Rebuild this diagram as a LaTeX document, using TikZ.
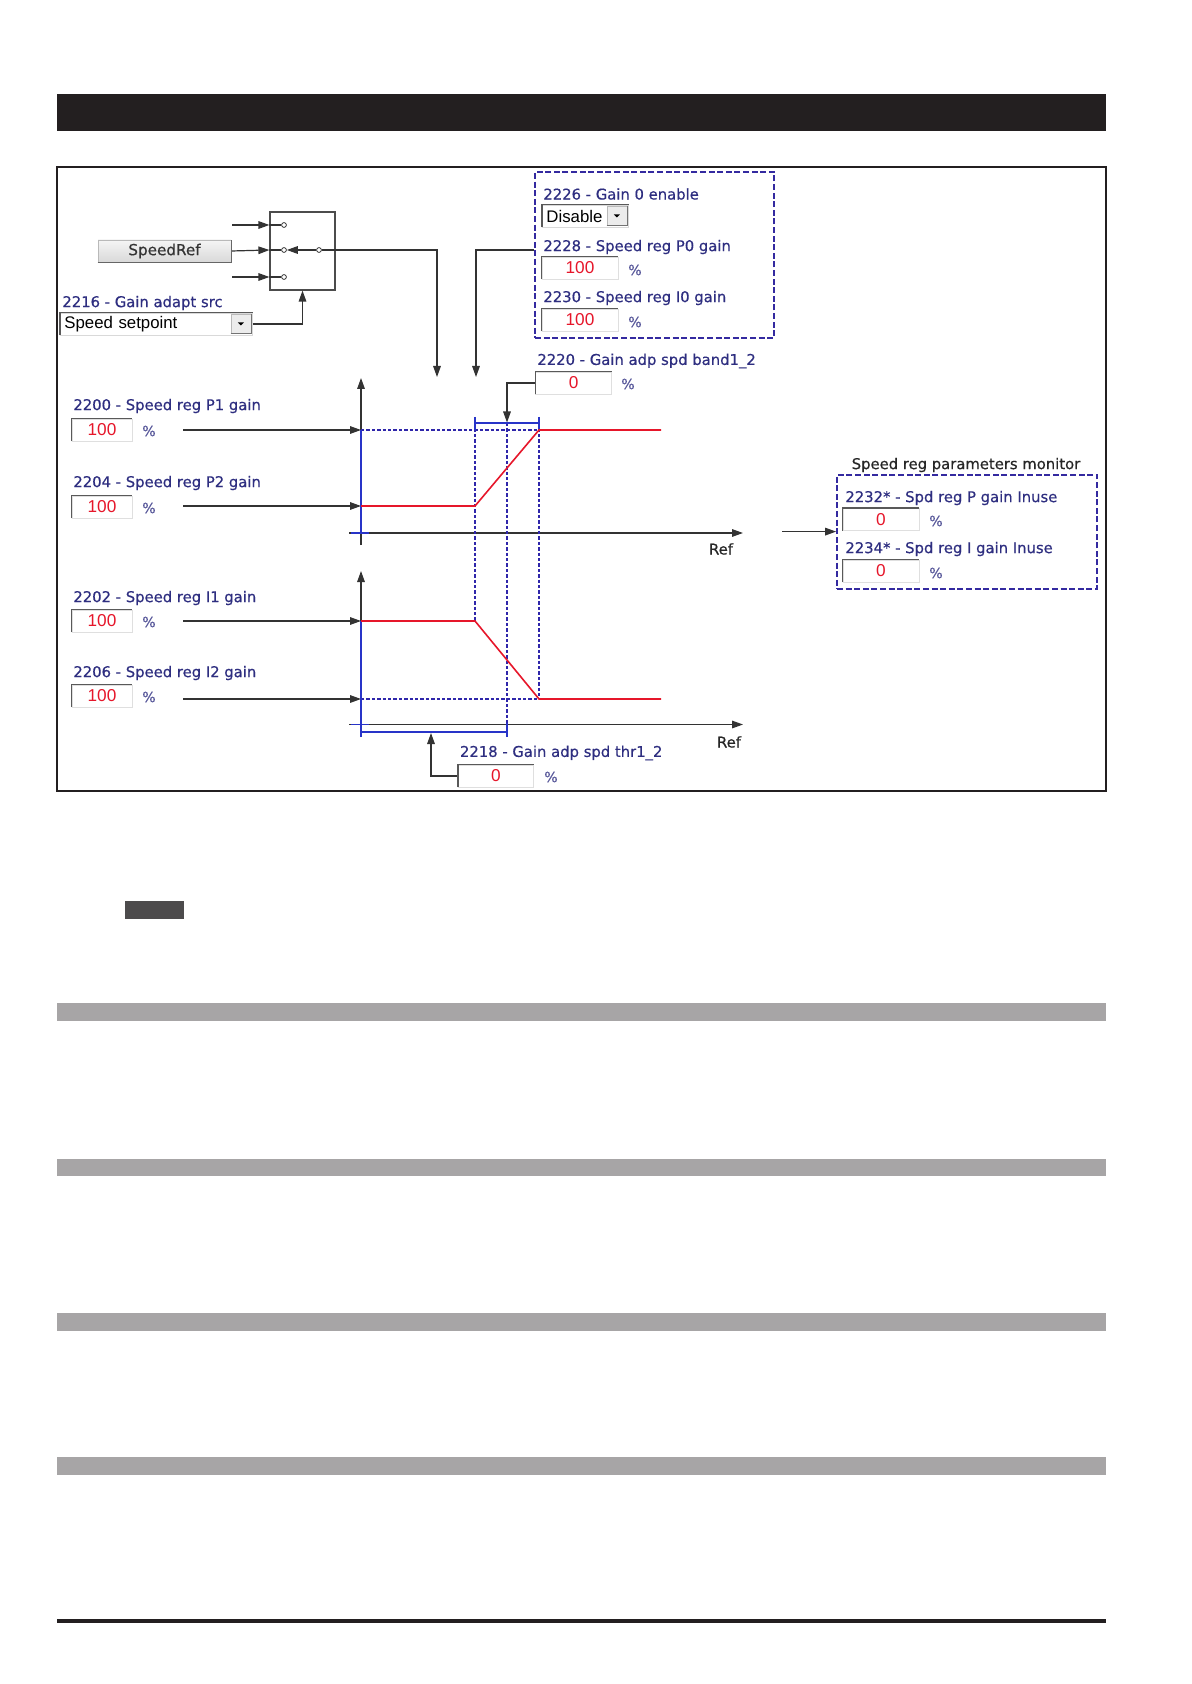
\documentclass[tikz,border=0pt]{standalone}
\usepackage{fontspec}
\usetikzlibrary{arrows.meta,positioning,calc}
\newfontfamily\verdfont[FakeBold=0.5]{DejaVu Sans}
\newfontfamily\arialfont{Liberation Sans}
\definecolor{lblblue}{RGB}{46,46,128}
\definecolor{boxblue}{RGB}{52,42,160}
\definecolor{axblue}{RGB}{40,52,200}
\definecolor{valred}{RGB}{230,22,42}
\definecolor{barblack}{RGB}{35,31,32}
\definecolor{bargray}{RGB}{167,165,166}
\definecolor{tabgray}{RGB}{77,75,76}

\begin{document}
\begin{tikzpicture}[x=0.5pt, y=-0.5pt,
  >={Triangle[length=5.5pt,width=3.8pt]},
  lbl/.style={anchor=west, inner sep=0pt, text=lblblue, font=\verdfont\fontsize{7.4pt}{9pt}\selectfont},
  pct/.style={inner sep=0pt, text=lblblue!80, font=\verdfont\fontsize{7pt}{8pt}\selectfont},
  reftext/.style={inner sep=0pt, text=black!85, font=\verdfont\fontsize{7.4pt}{9pt}\selectfont},
  field/.style={draw=gray!25, fill=white, minimum width=#1, minimum height=11pt, inner sep=0pt, text=valred, font=\arialfont\fontsize{8.6pt}{10pt}\selectfont},
  field/.default=38pt,
  combo/.style={draw=gray!30, fill=white, anchor=west, minimum height=11pt, inner xsep=2pt, inner ysep=0pt, text width=#1, align=left, font=\arialfont\fontsize{8.4pt}{10pt}\selectfont},
  dropbtn/.style={draw=gray!55, fill=gray!15, anchor=east, minimum width=10pt, minimum height=9.5pt, inner sep=0pt},
  button/.style={draw=gray!55, top color=gray!8, bottom color=gray!30, minimum width=66.5pt, minimum height=11pt, inner sep=0pt, text=black!80, font=\verdfont\fontsize{7.6pt}{9pt}\selectfont},
  selbox/.style={draw=black!70, line width=0.6pt, minimum width=32.5pt, minimum height=39pt, inner sep=0pt},
  contact/.style={circle, draw=black!80, fill=white, line width=0.4pt, minimum size=2.4pt, inner sep=0pt},
  grpbox/.style={draw=boxblue, line width=0.9pt, dash pattern=on 3pt off 1.3pt, inner sep=0pt},
  wire/.style={draw=black!80, line width=0.6pt},
  axline/.style={draw=axblue, line width=0.7pt},
  guide/.style={draw=boxblue!90!blue, line width=0.95pt, dash pattern=on 1.7pt off 1pt},
  curve/.style={draw=valred, line width=0.8pt}
]
\useasboundingbox (0,0) rectangle (1191,1684);

\fill[barblack] (57,94.5) rectangle (1106,131);
\draw[barblack, line width=1pt] (57,167.5) rectangle (1106,791);

% selector
\node[selbox] (sw) at (302.5,251) {};
\node[contact] (c1) at (284,225) {};
\node[contact] (c2) at (284,250) {};
\node[contact] (c3) at (284,277) {};
\node[contact] (cout) at (319,250) {};
\node[button] (sref) at (164.5,251) {SpeedRef};
\coordinate (in1) at (232,225);
\coordinate (in3) at (232,277);
\draw[wire,->] (in1) -- (sw.west |- c1);
\draw[wire,->] (sref.east) -- (sw.west |- c2);
\draw[wire,->] (in3) -- (sw.west |- c3);
\draw[wire] (sw.west |- c1) -- (c1.west);
\draw[wire] (sw.west |- c2) -- (c2.west);
\draw[wire] (sw.west |- c3) -- (c3.west);
\draw[wire,->] (cout.west) -- (c2.east);

\node[lbl] (srclbl) at (62,303) {2216 - Gain adapt src};
\node[combo=92pt] (src) at (60,324) {Speed setpoint};
\node[dropbtn] (srcbtn) at ($(src.east)+(-1.5,0)$) {};
\draw[wire,->] (src.east) -| (sw.south);

% gain 0 group
\node[lbl] (en0lbl) at (543,194) {2226 - Gain 0 enable};
\node[combo=39pt] (en0) at (542,216) {Disable};
\node[dropbtn] (en0btn) at ($(en0.east)+(-1.5,0)$) {};
\node[lbl] (p0lbl) at (543,247) {2228 - Speed reg P0 gain};
\node[field] (p0) at (580,268) {100};
\node[pct] at (635,270) {\%};
\node[lbl] (i0lbl) at (543,298) {2230 - Speed reg I0 gain};
\node[field] (i0) at (580,320) {100};
\node[pct] at (635,322) {\%};
\node[grpbox, minimum width=119.5pt, minimum height=83pt] (grp0) at (654.5,255) {};

\coordinate (swtip) at (437,377);
\coordinate (grptip) at (476,377);
\draw[wire,->] (cout.east) -| (swtip);
\draw[wire,->] (grp0.west |- cout) -| (grptip);

% band
\node[lbl] (bandlbl) at (537,361) {2220 - Gain adp spd band1\_2};
\node[field] (band) at (573.7,383) {0};
\node[pct] at (628,384) {\%};
\coordinate (bandtip) at (507,422.5);
\draw[wire,->] (band.west) -| (bandtip);

% left gains
\node[lbl] (p1lbl) at (73,406) {2200 - Speed reg P1 gain};
\node[field=30pt] (p1) at (102,430) {100};
\node[pct] at (149,431) {\%};
\node[lbl] (p2lbl) at (73,483) {2204 - Speed reg P2 gain};
\node[field=30pt] (p2) at (102,507) {100};
\node[pct] at (149,508) {\%};
\node[lbl] (i1lbl) at (73,598) {2202 - Speed reg I1 gain};
\node[field=30pt] (i1) at (102,621) {100};
\node[pct] at (149,622) {\%};
\node[lbl] (i2lbl) at (73,673) {2206 - Speed reg I2 gain};
\node[field=30pt] (i2) at (102,696) {100};
\node[pct] at (149,697) {\%};

\foreach \n/\y in {p1/430,p2/506,i1/621,i2/699} {
  \coordinate (\n in) at (183,\y);
  \coordinate (\n lvl) at (361,\y);
  \draw[wire,->] (\n in) -- (\n lvl);
}

% axes
\draw[wire,->] (361,545) -- (361,378);
\draw[wire,->] (349,533) -- (743,533);
\draw[wire,->] (361,737) -- (361,571);
\draw[wire,->] (349,724.5) -- (743,724.5);
\node[reftext] (ref1) at (721,549) {Ref};
\node[reftext] (ref2) at (729,742) {Ref};

\draw[guide] (361,430) -- (539,430);
\draw[guide] (361,699) -- (539,699);
\draw[guide] (475,423) -- (475,621);
\draw[guide] (507,423) -- (507,732);
\draw[guide] (539,423) -- (539,699);

\draw[axline] (361,430) -- (361,533);
\draw[axline] (351,533) -- (369,533);
\draw[axline] (361,621) -- (361,737);
\draw[axline] (351,724.5) -- (369,724.5);
\draw[axline] (361,732) -- (507,732);
\draw[axline] (507,723) -- (507,737);
\draw[axline] (475,423) -- (539,423);
\draw[axline] (475,417) -- (475,430);
\draw[axline] (539,417) -- (539,430);

\draw[curve] (361,506) -- (475,506) -- (539,430) -- (661,430);
\draw[curve] (361,621) -- (475,621) -- (539,699) -- (661,699);

% threshold
\node[lbl] (thrlbl) at (459.6,753) {2218 - Gain adp spd thr1\_2};
\node[field=37.5pt] (thr) at (496,776) {0};
\node[pct] at (551,777) {\%};
\coordinate (thrtip) at (431,733);
\draw[wire,->] (thr.west) -| (thrtip);

% monitor
\node[reftext] (montitle) at (966,465) {Speed reg parameters monitor};
\node[grpbox, minimum width=130pt, minimum height=57.25pt] (mon) at (967,532) {};
\node[lbl] (pglbl) at (845,498) {2232* - Spd reg P gain Inuse};
\node[field] (pgain) at (881,519.5) {0};
\node[pct] at (936,521) {\%};
\node[lbl] (iglbl) at (845,549) {2234* - Spd reg I gain Inuse};
\node[field] (igain) at (881,571) {0};
\node[pct] at (936,573) {\%};
\coordinate (monin) at (782,531.6);
\draw[wire,->] (monin) -- (mon.west |- monin);

\foreach \f in {src,en0,p0,i0,band,p1,p2,i1,i2,thr,pgain,igain}
  \draw[black!65, line width=0.7pt] (\f.south west) |- (\f.north east);
\draw[black!60, line width=0.7pt] (sref.south west) -| (sref.north east);
\foreach \b in {srcbtn,en0btn} {
  \draw[black!55, line width=0.5pt] (\b.south west) -| (\b.north east);
  \fill[black] ($(\b.center)+(-3,-1.5)$) -- ++(6,0) -- ++(-3,3) -- cycle;
}

\fill[tabgray] (125,901) rectangle (184,919);
\foreach \y in {1003,1158.5,1313,1457}
  \fill[bargray] (57,\y) rectangle (1106,\y+17.5);
\fill[barblack] (57,1619) rectangle (1106,1623);

\end{tikzpicture}
\end{document}
